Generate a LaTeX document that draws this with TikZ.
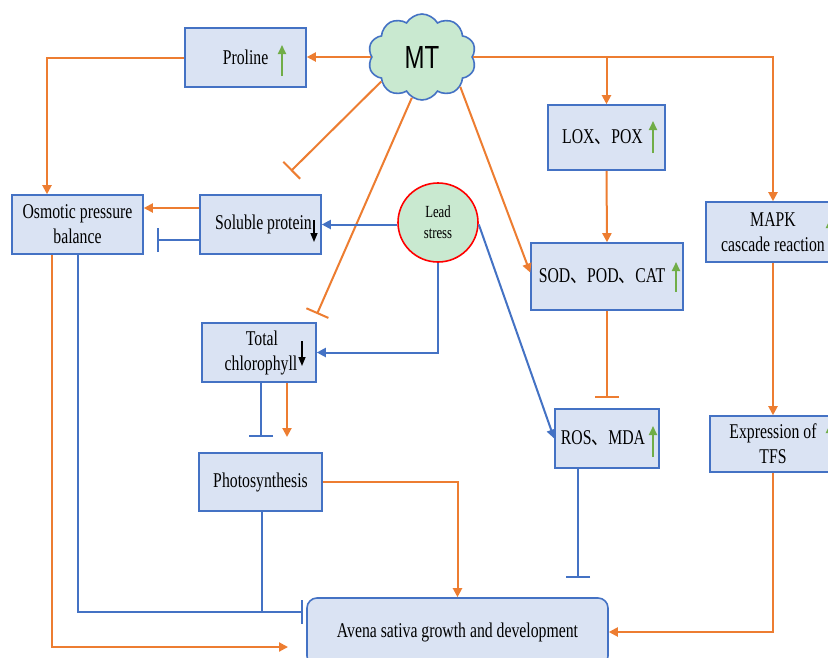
\documentclass[tikz,border=0pt]{standalone}
\usepackage{fontspec}
\setmainfont{Liberation Serif}[FakeStretch=0.75]
\newfontfamily\mtfont{Liberation Sans}[FakeStretch=0.75]
\newfontfamily\cjkfont{Noto Sans CJK SC}[FakeStretch=0.8]
\newcommand\idcomma{{\cjkfont 、}}
\usetikzlibrary{shapes.symbols,shapes.geometric,arrows.meta}
\definecolor{orng}{HTML}{ED7D31}
\definecolor{blu}{HTML}{4472C4}
\definecolor{boxfill}{HTML}{DAE3F3}
\definecolor{grn}{HTML}{70AD47}
\definecolor{cloudfill}{HTML}{C9E9D0}
\tikzset{
  box/.style={draw=blu, line width=1.6pt, fill=boxfill, align=center, inner sep=0pt,
    font=\fontsize{21}{25}\selectfont},
  oarr/.style={draw=orng, line width=2pt, -{Triangle[length=9pt,width=9pt]}},
  barr/.style={draw=blu, line width=2pt, -{Triangle[length=9pt,width=9pt]}},
  oinh/.style={draw=orng, line width=2pt, -{Bar[width=24pt]}},
  binh/.style={draw=blu, line width=2pt, -{Bar[width=24pt]}},
  bline/.style={draw=blu, line width=2pt},
  garr/.style={draw=grn, line width=2pt, -{Triangle[length=9pt,width=8pt]}},
  karr/.style={draw=black, line width=1.5pt, -{Triangle[length=9pt,width=7pt]}},
}
\begin{document}
\begin{tikzpicture}[x=1pt,y=-1pt]
\useasboundingbox[fill=white] (0,0) rectangle (828,657);
\clip (0,0) rectangle (828,657);

% nodes
\node[cloud, cloud puffs=10, cloud puff arc=120, aspect=1.25, draw=blu, line width=1.6pt,
  fill=cloudfill, minimum width=108pt, minimum height=86pt, inner sep=0pt,
  font=\mtfont\fontsize{32}{36}\selectfont] (mt) at (422,57) {MT};
\node[box, minimum width=121pt, minimum height=59pt] (proline) at (245.5,57.5) {Proline};
\node[box, minimum width=131pt, minimum height=59pt] (osm) at (77.5,224.5) {Osmotic pressure\\balance};
\node[box, minimum width=121pt, minimum height=59pt] (sol) at (260.5,224.5) {\hspace{6pt}Soluble protein};
\node[ellipse, draw=red, line width=1.6pt, fill=cloudfill, minimum width=80pt, minimum height=79pt,
  inner sep=0pt, align=center, font=\fontsize{17}{21}\selectfont] (lead) at (438,222.5) {Lead\\stress};
\node[box, minimum width=117pt, minimum height=65pt] (lox) at (606.5,137.5) {LOX\idcomma POX\hspace{8pt}};
\node[box, minimum width=152pt, minimum height=67pt] (sod) at (607,276.5) {SOD\idcomma POD\idcomma CAT\hspace{10pt}};
\node[box, minimum width=134pt, minimum height=60pt] (mapk) at (773,232) {MAPK\\cascade reaction};
\node[box, minimum width=126pt, minimum height=56pt] (expr) at (773,444) {Expression of\\TFS};
\node[box, minimum width=114pt, minimum height=59pt] (chl) at (259,352.5) {\hspace{6pt}Total\\\hspace{4pt}chlorophyll};
\node[box, minimum width=123pt, minimum height=58pt] (ps) at (260.5,482) {Photosynthesis};
\node[box, minimum width=104pt, minimum height=59pt] (ros) at (607,438.5) {ROS\idcomma MDA\hspace{8pt}};
\node[box, rounded corners=10pt, minimum width=301pt, minimum height=68pt] (avena) at (457.5,632) {Avena sativa growth and development};

% up/down indicators
\draw[garr] (282,76) -- (282,45);
\draw[garr] (653,153) -- (653,121);
\draw[garr] (676,292) -- (676,262);
\draw[garr] (653,457) -- (653,426);
\draw[garr] (830,248) -- (830,219);
\draw[garr] (830,455) -- (830,424);
\draw[karr] (314,220) -- (314,242);
\draw[karr] (302,341) -- (302,366);

% coordinates for free ends
\coordinate (i1) at (291,171);
\coordinate (i2) at (317,314);
\coordinate (b1) at (607,398);
\coordinate (b2) at (157,240);
\coordinate (b3) at (261,437);
\coordinate (a1) at (287,437);
\coordinate (b4) at (303,612);
\coordinate (a2) at (288,647);
\coordinate (b5) at (578,578);

% connectors from MT
\draw[oarr] (mt.west) -- (mt.west -| proline.east);
\draw[oarr] (proline.west) -| ([xshift=-30.5pt]osm.north);
\draw[oinh] (mt.211) -- (i1);
\draw[oinh] (mt.256) -- (i2);
\draw[oarr] (mt.322) -- ([yshift=4pt]sod.west);
\draw[oarr] (mt.east) -| (mapk.north);
\draw[oarr] (mt.east -| lox.north) -- (lox.north);
\draw[oarr] (lox.south) -- (sod.north);
\draw[oinh] (sod.south) -- (b1);
\draw[oarr] (mapk.south) -- (expr.north);
\draw[oarr] (expr.south) |- (avena.east);

% soluble protein / osmotic
\draw[oarr] ([yshift=16.5pt]sol.west) -- ([yshift=16.5pt]sol.west -| osm.east);
\draw[binh] ([yshift=-15.5pt]sol.west) -- (b2);

% lead stress
\draw[barr] (lead.west |- sol.east) -- (sol.east);
\draw[barr] (lead.south) |- (chl.east);
\draw[barr] ([yshift=-2pt]lead.east) -- (ros.west);

% chlorophyll
\draw[binh] ([xshift=2pt]chl.south) -- (b3);
\draw[oarr] (chl.south -| a1) -- (a1);

% photosynthesis
\draw[oarr] (ps.east) -| (avena.north);
\draw[binh] (osm.south) |- (b4);
\draw[bline] ([xshift=1.5pt]ps.south) -- ([xshift=1.5pt]ps.south |- b4);
\draw[oarr] ([xshift=-25.5pt]osm.south) |- (a2);

% ROS
\draw[binh] (ros.south -| b5) -- (b5);
\end{tikzpicture}
\end{document}
